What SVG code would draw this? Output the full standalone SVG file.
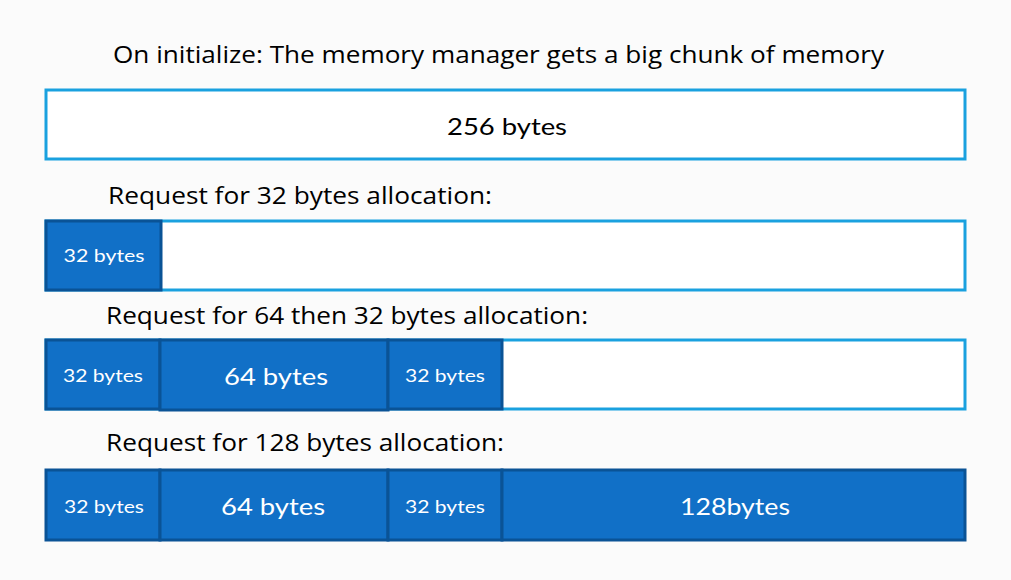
<svg xmlns="http://www.w3.org/2000/svg" width="1011" height="580" viewBox="0 0 1011 580">
<style>
.bg{fill:#fbfbfb}
.free{fill:#ffffff;stroke:#1aa1df;stroke-width:3}
.blk{fill:#1170c7;stroke:#0a5396;stroke-width:3}
.title{font-family:"Open Sans","Liberation Sans",sans-serif;font-size:24px;fill:#000}
.lbl{font-family:Lato,"DejaVu Sans",sans-serif;fill:#fff;text-anchor:middle}
.s{font-size:17px}
.m{font-size:23px}
.dark{fill:#000;font-size:23px}
</style>
<rect class="bg" x="0" y="0" width="1011" height="580"/>
<g id="row1">
<text class="title" x="113" y="63" textLength="771" lengthAdjust="spacingAndGlyphs">On initialize: The memory manager gets a big chunk of memory</text>
<rect class="free" x="46" y="90" width="919" height="69"/>
<text class="lbl dark" x="507" y="135" textLength="120" lengthAdjust="spacingAndGlyphs">256 bytes</text>
</g>
<g id="row2">
<text class="title" x="108" y="204" textLength="384" lengthAdjust="spacingAndGlyphs">Request for 32 bytes allocation:</text>
<rect class="free" x="46" y="221" width="919" height="69"/>
<rect class="blk" x="46" y="221" width="115" height="69"/>
<text class="lbl s" x="104" y="262" textLength="81" lengthAdjust="spacingAndGlyphs">32 bytes</text>
</g>
<g id="row3">
<text class="title" x="106" y="324" textLength="482" lengthAdjust="spacingAndGlyphs">Request for 64 then 32 bytes allocation:</text>
<rect class="free" x="46" y="340" width="919" height="69"/>
<rect class="blk" x="46" y="340" width="114" height="69"/>
<rect class="blk" x="160" y="340" width="228" height="70"/>
<rect class="blk" x="388" y="340" width="114" height="69"/>
<text class="lbl s" x="103" y="382" textLength="80" lengthAdjust="spacingAndGlyphs">32 bytes</text>
<text class="lbl m" x="276" y="385" textLength="104" lengthAdjust="spacingAndGlyphs">64 bytes</text>
<text class="lbl s" x="445" y="382" textLength="80" lengthAdjust="spacingAndGlyphs">32 bytes</text>
</g>
<g id="row4">
<text class="title" x="106" y="451" textLength="398" lengthAdjust="spacingAndGlyphs">Request for 128 bytes allocation:</text>
<rect class="blk" x="46" y="470" width="114" height="70"/>
<rect class="blk" x="160" y="470" width="228" height="70"/>
<rect class="blk" x="388" y="470" width="114" height="70"/>
<rect class="blk" x="502" y="470" width="463" height="70"/>
<text class="lbl s" x="104" y="513" textLength="80" lengthAdjust="spacingAndGlyphs">32 bytes</text>
<text class="lbl m" x="273" y="515" textLength="104" lengthAdjust="spacingAndGlyphs">64 bytes</text>
<text class="lbl s" x="445" y="513" textLength="80" lengthAdjust="spacingAndGlyphs">32 bytes</text>
<text class="lbl m" x="735" y="515" textLength="110" lengthAdjust="spacingAndGlyphs">128bytes</text>
</g>
<g id="connectors"></g>
</svg>
